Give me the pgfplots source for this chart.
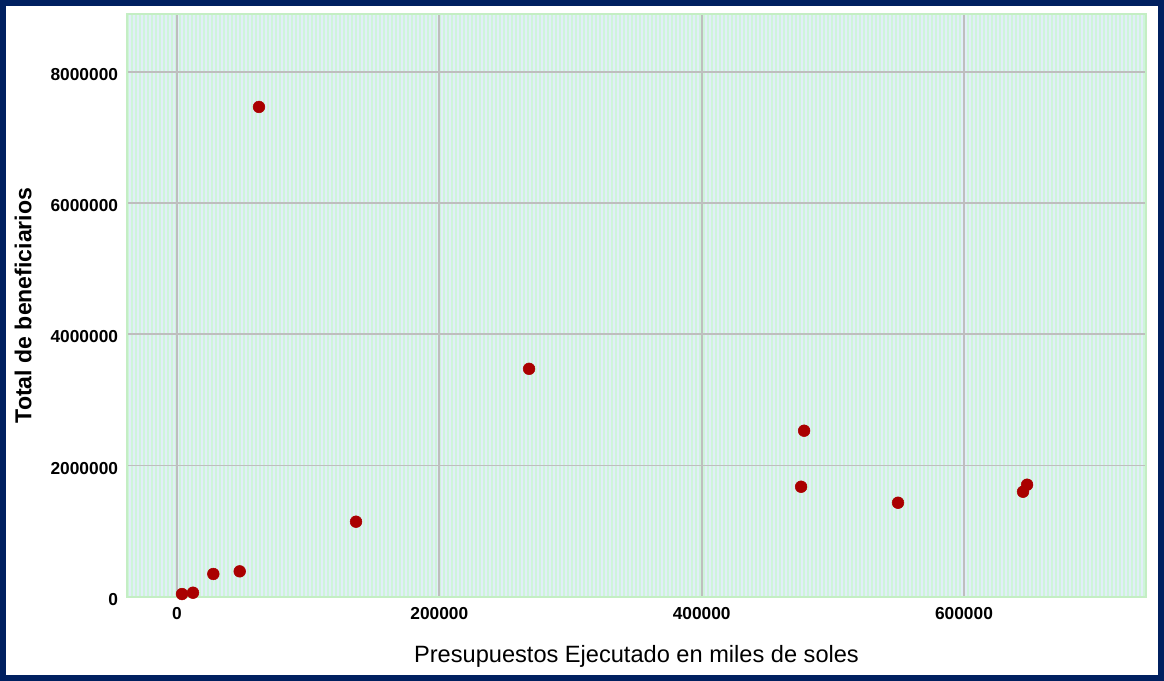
\documentclass[border=0pt]{standalone}
\usepackage{pgfplots}
\pgfplotsset{compat=1.18}
\usetikzlibrary{patterns.meta}
\usepackage{fontspec}
\setmainfont{Liberation Sans}

\definecolor{framenavy}{RGB}{0,32,96}
\definecolor{markred}{RGB}{170,0,0}
\definecolor{stripeblue}{RGB}{226,238,248}
\definecolor{stripegreen}{RGB}{206,245,218}
\definecolor{gridgray}{RGB}{190,190,190}
\definecolor{edgegreen}{RGB}{196,238,196}

\begin{document}
\begin{tikzpicture}
% outer frame (1164x681 px at 0.75pt/px)
\draw[framenavy, line width=4.5pt]
  (-95.25pt+2.25pt, -63pt+2.25pt) rectangle (777.75pt-2.25pt, 447.75pt-2.25pt);

\begin{axis}[
    at={(0,0)}, anchor=south west,
    scale only axis,
    width=764.25pt, height=437.25pt,
    xmin=-38120, xmax=738760,
    ymin=-5000, ymax=8884000,
    xtick={0,200000,400000,600000},
    ytick={0,2000000,4000000,6000000,8000000},
    scaled ticks=false,
    /pgf/number format/.cd, fixed, 1000 sep={}, assume math mode=true,
    /pgfplots/.cd,
    major tick length=0pt,
    grid=major,
    major grid style={gridgray, line width=1.4pt},
    axis line style={edgegreen, line width=1pt},
    axis background/.style={
        fill=stripeblue,
        postaction={pattern={Lines[angle=90, distance=3pt, line width=1.5pt]},
                    pattern color=stripegreen}},
    ticklabel style={font=\bfseries\fontsize{13}{13}\selectfont, inner sep=0pt},
    xticklabel style={anchor=north, yshift=-7.5pt},
    yticklabel style={anchor=east, xshift=-6.5pt, yshift=-2pt},
    xlabel={Presupuestos Ejecutado en miles de soles},
    ylabel={Total de beneficiarios},
    xlabel style={font=\fontsize{17.7}{17.7}\selectfont,
        at={(axis description cs:0.5,-0.1132)}, anchor=base},
    ylabel style={font=\bfseries\fontsize{17.3}{17.3}\selectfont,
        at={(axis description cs:-0.102,0.5)}, anchor=center, rotate=0},
]
\addplot[only marks, mark=*, mark size=4.4pt,
         mark options={fill=markred, draw=markred}] coordinates {
    (3810, 40000)
    (12200, 60000)
    (27700, 346000)
    (47800, 386000)
    (62500, 7467000)
    (136500, 1143000)
    (268400, 3474000)
    (478100, 2530000)
    (475800, 1676000)
    (549700, 1432000)
    (645000, 1600000)
    (648100, 1707000)
};
\end{axis}
\end{tikzpicture}
\end{document}
